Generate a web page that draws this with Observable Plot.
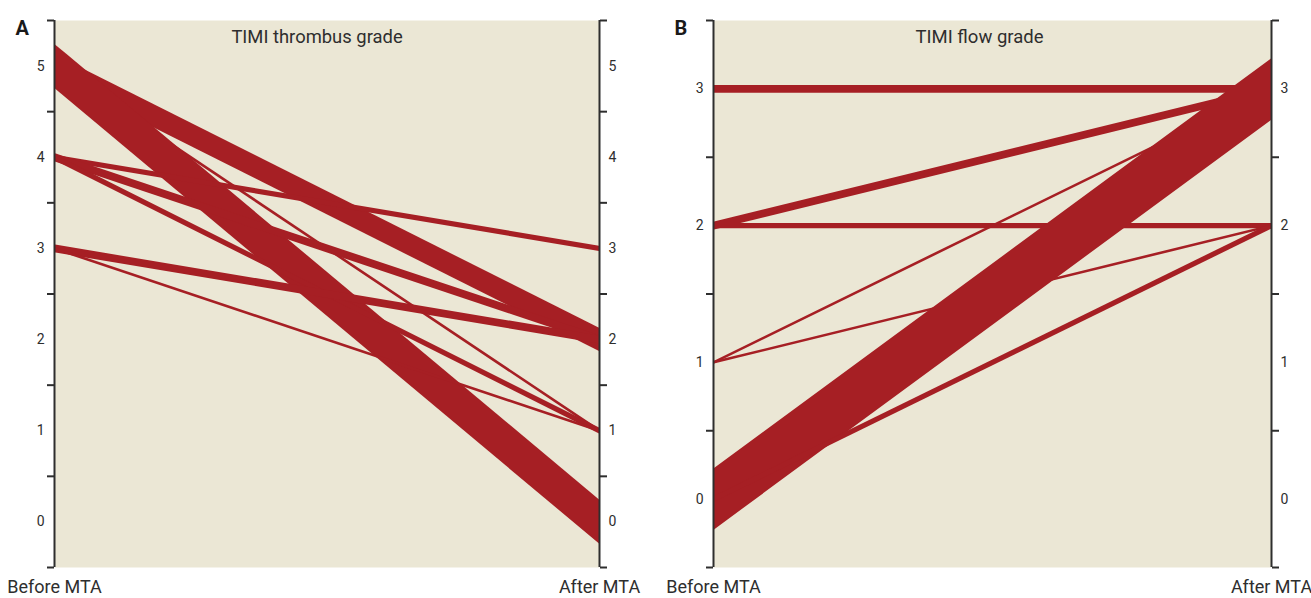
<!DOCTYPE html>
<html>
<head>
<meta charset="utf-8">
<script src="https://cdn.jsdelivr.net/npm/d3@7"></script>
<script src="https://cdn.jsdelivr.net/npm/@observablehq/plot@0.6"></script>
<style>
  html, body { margin: 0; padding: 0; background: #ffffff; }
  #wrap { display: flex; width: 1311px; height: 598px; overflow: hidden; }
  #wrap svg { overflow: visible; }
</style>
</head>
<body>
<div id="wrap"></div>
<script>
// ---- Data ----
const stages = ["Before MTA", "After MTA"];

// Panel A: TIMI thrombus grade (before -> after, number of patients)
const thrombusTitle = "TIMI thrombus grade";
const thrombusBefore = [5, 5, 5, 4, 4, 4, 3, 3];
const thrombusAfter  = [2, 1, 0, 3, 2, 1, 2, 1];
const thrombusCount  = [8, 1, 13, 2, 3, 2, 3, 1];
const thrombusTicks  = [0, 1, 2, 3, 4, 5];

// Panel B: TIMI flow grade
const flowTitle = "TIMI flow grade";
const flowBefore = [3, 2, 2, 1, 1, 0, 0];
const flowAfter  = [3, 3, 2, 3, 2, 3, 2];
const flowCount  = [3, 3, 2, 1, 1, 19, 2];
const flowTicks  = [0, 1, 2, 3];

// ---- Style ----
const beige = "#ebe7d5";
const red = "#a61f24";
const ink = "#2e2e2e";
const unit = 2.6; // px of line width per patient
const font = "Roboto, 'Liberation Sans', sans-serif";

function panel({letter, title, before, after, count, ticks, width, ml, mr, titleDx, titleSize}) {
  const flows = before.map((b, i) => ({b, a: after[i], n: count[i]}));
  const lo = d3.min(ticks) - 0.5, hi = d3.max(ticks) + 0.5;
  const half = d3.range(lo, hi + 0.001, 1);
  const fmt = d => String(d);
  return Plot.plot({
    width, height: 598,
    marginLeft: ml, marginRight: mr, marginTop: 20, marginBottom: 31,
    style: {fontFamily: font, fontSize: "14px", color: ink, background: "transparent", overflow: "visible"},
    x: {type: "point", domain: stages, padding: 0, axis: null},
    y: {domain: [lo, hi], axis: null},
    marks: [
      Plot.frame({fill: beige, stroke: null}),
      Plot.link(flows, {
        x1: () => stages[0], x2: () => stages[1],
        y1: "b", y2: "a",
        stroke: red, strokeWidth: d => d.n * unit,
        strokeLinecap: "square", clip: true
      }),
      Plot.ruleX(stages, {stroke: ink, strokeWidth: 2}),
      Plot.axisY(half, {anchor: "left", tickSize: 7, tickFormat: () => "", stroke: ink, strokeWidth: 2, label: null}),
      Plot.axisY(half, {anchor: "right", tickSize: 7, tickFormat: () => "", stroke: ink, strokeWidth: 2, label: null}),
      Plot.axisY(ticks, {anchor: "left", tickSize: 0, tickPadding: 10, tickFormat: fmt, fontSize: 14, fill: ink, label: null}),
      Plot.axisY(ticks, {anchor: "right", tickSize: 0, tickPadding: 9, tickFormat: fmt, fontSize: 14, fill: ink, label: null}),
      Plot.axisX(stages, {anchor: "bottom", tickSize: 0, tickPadding: 13, fontSize: 18, fill: ink, label: null}),
      Plot.text([title], {frameAnchor: "top", text: d => d, dx: titleDx, dy: 9, lineAnchor: "top", fontSize: titleSize, fill: ink}),
      Plot.text([letter], {frameAnchor: "top-left", text: d => d, dx: -39, dy: 0, lineAnchor: "top", textAnchor: "start", fontSize: 20, fontWeight: "bold", fill: "#1a1a1a"})
    ]
  });
}

const wrap = document.getElementById("wrap");
wrap.append(panel({
  letter: "A", title: thrombusTitle,
  before: thrombusBefore, after: thrombusAfter, count: thrombusCount, ticks: thrombusTicks,
  width: 655, ml: 54, mr: 56, titleDx: -10, titleSize: 18.4
}));
wrap.append(panel({
  letter: "B", title: flowTitle,
  before: flowBefore, after: flowAfter, count: flowCount, ticks: flowTicks,
  width: 656, ml: 58, mr: 40, titleDx: -13, titleSize: 18.5
}));
</script>
</body>
</html>
